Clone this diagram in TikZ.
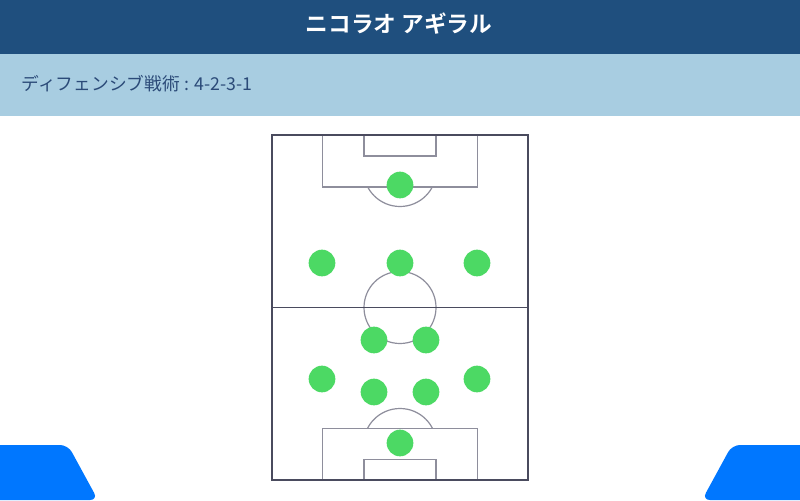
\documentclass[tikz,border=0pt]{standalone}
\usepackage{fontspec}
\newfontfamily\jp{Noto Sans CJK JP}
\newfontfamily\jpb{Noto Sans CJK JP Bold}
\definecolor{hdr}{HTML}{1F4F7E}
\definecolor{sub}{HTML}{A8CDE1}
\definecolor{subtxt}{HTML}{2B4A78}
\definecolor{outer}{HTML}{4A4B5E}
\definecolor{inner}{HTML}{8E8E9C}
\definecolor{plr}{HTML}{4CD964}
\definecolor{corner}{HTML}{0077FF}
\tikzset{
  player/.style={circle,fill=plr,minimum size=20pt,inner sep=0pt},
  inl/.style={draw=inner,line width=0.9pt},
}
\begin{document}
\begin{tikzpicture}[x=0.75pt,y=-0.75pt]
\useasboundingbox (0,0) rectangle (800,500);
\fill[white] (0,0) rectangle (800,500);
% header
\fill[hdr] (0,0) rectangle (800,54);
\fill[sub] (0,54) rectangle (800,116);
\node[text=white,font=\jpb\fontsize{17}{19}\selectfont] (title) at (399,24) {ニコラオ アギラル};
\node[anchor=west,text=subtxt,font=\jp\fontsize{13.3}{15}\selectfont] (subt) at (17,84) {ディフェンシブ戦術 : 4-2-3-1};
% corner shapes
\fill[corner] (0,500) -- (0,445) -- (60,445) [rounded corners=6pt] -- (68,445) -- (98,500) [sharp corners] -- cycle;
\fill[corner] (800,500) -- (800,445) -- (740,445) [rounded corners=6pt] -- (732,445) -- (702,500) [sharp corners] -- cycle;
% pitch
\draw[inl] (322.5,135) -- (322.5,187) -- (477.5,187) -- (477.5,135);
\draw[inl] (364,135) -- (364,156) -- (436,156) -- (436,135);
\draw[inl] (322.5,480) -- (322.5,428.5) -- (477.5,428.5) -- (477.5,480);
\draw[inl] (364,480) -- (364,459.5) -- (436,459.5) -- (436,480);
\draw[inl] (400,307.5) circle[radius=36];
\begin{scope}
\clip (272,187) rectangle (528,230);
\draw[inl] (400,170) circle[radius=36.5];
\end{scope}
\begin{scope}
\clip (272,380) rectangle (528,428.5);
\draw[inl] (400,445) circle[radius=36.5];
\end{scope}
\draw[draw=outer,line width=1.2pt] (272,307.5) -- (528,307.5);
\draw[draw=outer,line width=1.3pt] (272,135) rectangle (528,480);
% players
\node[player] (gk1) at (400,185) {};
\node[player] (a1) at (322,263) {};
\node[player] (a2) at (400,263) {};
\node[player] (a3) at (477,263) {};
\node[player] (b1) at (374,340) {};
\node[player] (b2) at (426,340) {};
\node[player] (c1) at (322,379) {};
\node[player] (c2) at (477,379) {};
\node[player] (d1) at (374,392) {};
\node[player] (d2) at (426,392) {};
\node[player] (gk2) at (400,443) {};
\end{tikzpicture}
\end{document}
